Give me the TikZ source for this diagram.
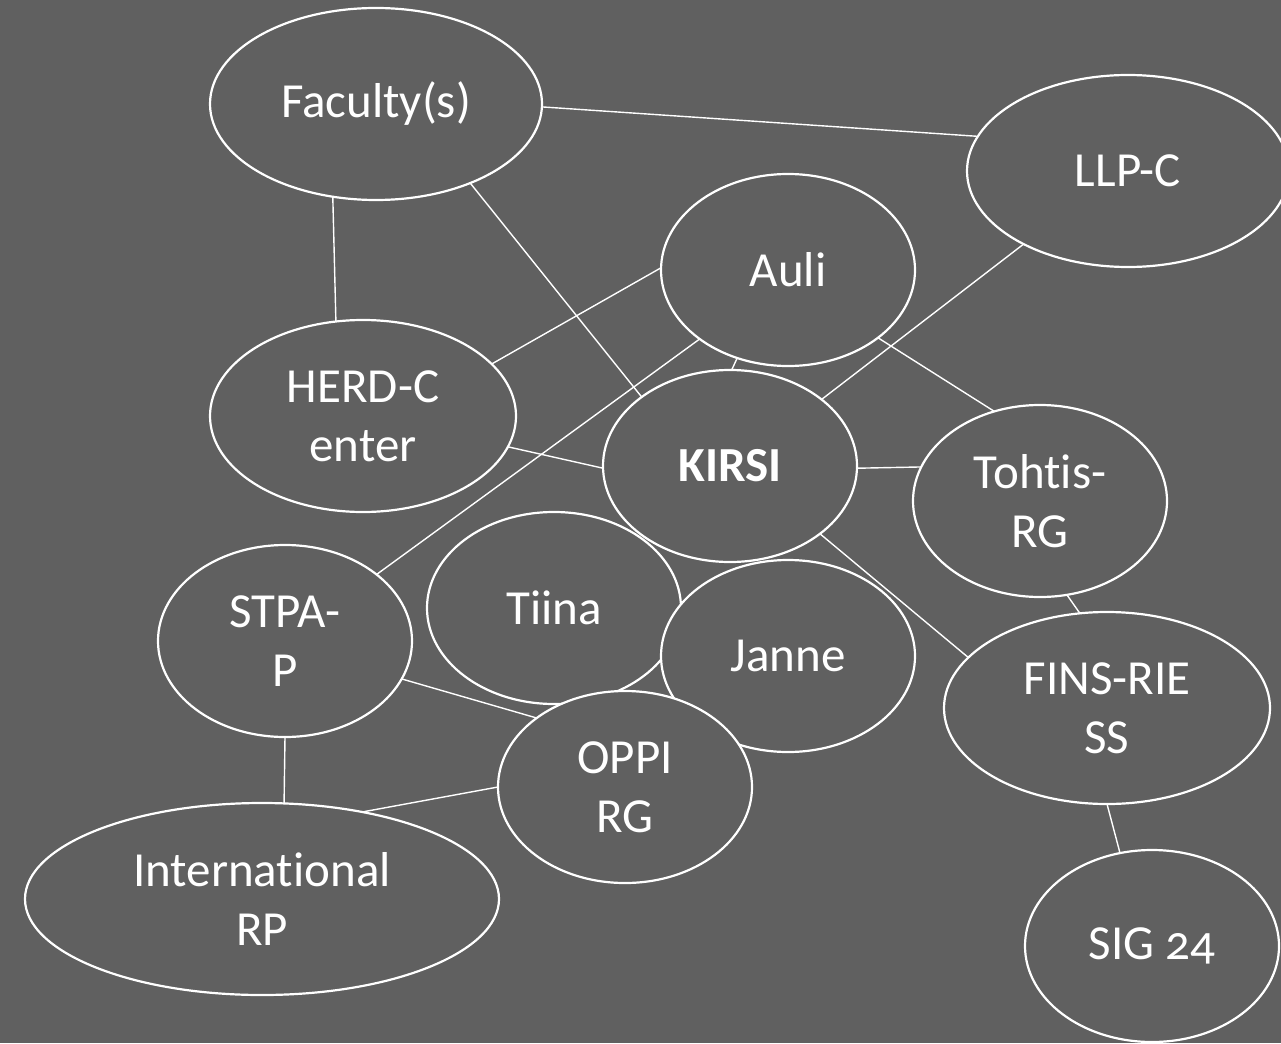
\documentclass[tikz,border=0pt]{standalone}
\usepackage{fontspec}
\setmainfont[Ligatures=NoCommon]{Carlito}
\usetikzlibrary{shapes.geometric}
\definecolor{bg}{RGB}{96,96,96}
\tikzset{
  bub/.style={ellipse, draw=white, line width=2.2pt, fill=bg, text=white,
    inner sep=0pt, outer sep=0pt, minimum height=192pt, minimum width=254pt,
    align=center, font=\fontsize{49}{59}\selectfont},
  link/.style={draw=white, line width=1.4pt},
}
\begin{document}
\begin{tikzpicture}[x=1pt,y=-1pt]
\fill[bg] (0,0) rectangle (1281,1043);
\useasboundingbox (0,0) rectangle (1281,1043);
\node[bub, minimum width=332pt] (fac) at (376,104) {Faculty(s)};
\node[bub, minimum width=322pt] (llp) at (1128,171) {LLP-C};
\node[bub] (auli) at (788,270) {Auli};
\node[bub, minimum width=306pt] (herd) at (363,416) {HERD-C\\enter};
\node[bub] (kirsi) at (730,466) {\bfseries KIRSI};
\node[bub] (tohtis) at (1040,501) {Tohtis-\\RG};
\node[bub] (tiina) at (554,608) {Tiina};
\node[bub] (janne) at (788,656) {Janne};
\node[bub] (stpa) at (285,641) {STPA-\\P};
\node[bub] (oppi) at (625,787) {OPPI\\RG};
\node[bub, minimum width=326pt] (fins) at (1107,708) {FINS-RIE\\SS};
\node[bub, minimum width=474pt] (intl) at (262,899) {International\\RP};
\node[bub] (sig) at (1152,946) {SIG \addfontfeatures{Numbers=OldStyle}24};
\draw[link] (fac.-1) -- (llp.167.4);
\draw[link] (fac.-115.4) -- (herd.106);
\draw[link] (fac.-40.4) -- (kirsi.142.9);
\draw[link] (auli.179.1) -- (herd.22.9);
\draw[link] (llp.-145.7) -- (kirsi.36.5);
\draw[link] (auli.-120.4) -- (kirsi.89.4);
\draw[link] (auli.-37.8) -- (tohtis.117.3);
\draw[link] (herd.-12.4) -- (kirsi.-179.5);
\draw[link] (kirsi.-1) -- (tohtis.164.5);
\draw[link] (kirsi.-37.2) -- (fins.160.5);
\draw[link] (tohtis.-74.3) -- (fins.106.3);
\draw[link] (fins.-90) -- (sig.109.5);
\draw[link] (auli.-142.5) -- (stpa.36.9);
\draw[link] (stpa.-18.3) -- (oppi.142.2);
\draw[link] (stpa.-90) -- (intl.77);
\draw[link] (oppi.180) -- (intl.41.9);
\end{tikzpicture}
\end{document}
